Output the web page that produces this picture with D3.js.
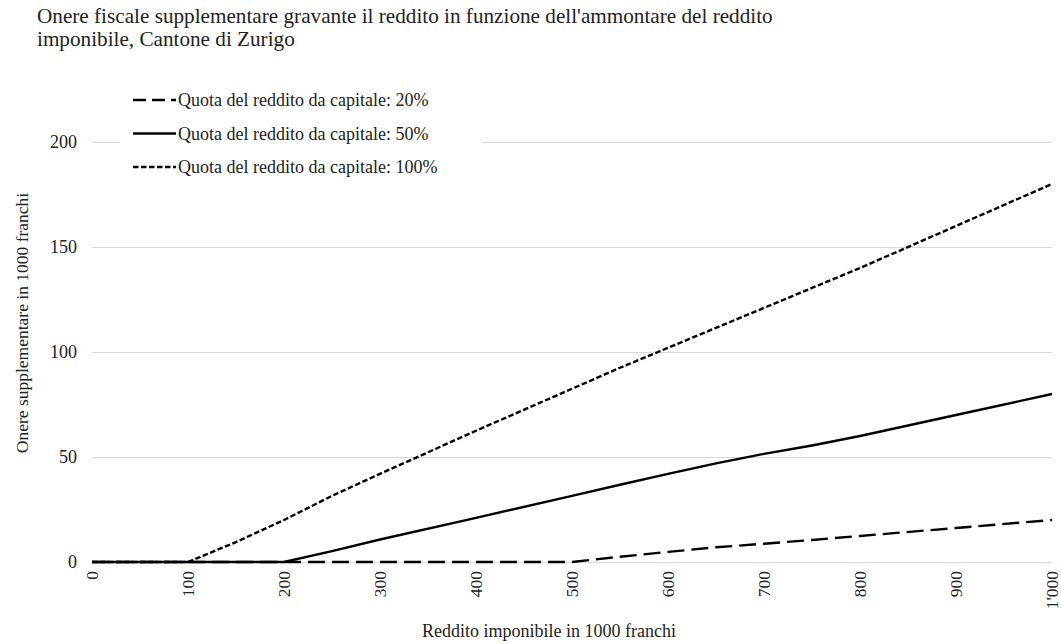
<!DOCTYPE html>
<html>
<head>
<meta charset="utf-8">
<script src="https://cdn.jsdelivr.net/npm/d3@7"></script>
<style>
  html, body { margin: 0; padding: 0; background: #fff; }
  svg { display: block; font-family: "Liberation Serif", "Times New Roman", serif; }
</style>
</head>
<body>
<svg id="chart" width="1061" height="644"></svg>
<script>
// Taxable income (thousand francs)
const incomes = [0, 100, 150, 200, 250, 300, 400, 500, 550, 600, 650, 700, 750, 800, 900, 1000];

// Additional tax burden (thousand francs) by share of capital income
const share20  = [0, 0, 0, 0, 0, 0, 0, 0, 2.5, 4.8, 7, 8.7, 10.5, 12.4, 16.2, 20];
const share50  = [0, 0, 0, 0, 5.2, 10.7, 21, 31.5, 36.8, 42, 47, 51.5, 55.5, 60, 70, 80];
const share100 = [0, 0, 9.5, 20, 31.5, 42, 62.5, 82.5, 92.5, 102, 111.5, 121, 130.5, 140, 160, 180];

const seriesNames = [
  "Quota del reddito da capitale: 20%",
  "Quota del reddito da capitale: 50%",
  "Quota del reddito da capitale: 100%"
];
const xTicks = [0, 100, 200, 300, 400, 500, 600, 700, 800, 900, 1000];
const yTicks = [0, 50, 100, 150, 200];

const titleLines = [
  "Onere fiscale supplementare gravante il reddito in funzione dell'ammontare del reddito",
  "imponibile, Cantone di Zurigo"
];
const xTitle = "Reddito imponibile in 1000 franchi";
const yTitle = "Onere supplementare in 1000 franchi";

const series = [
  { name: seriesNames[0], values: share20,  dash: "17,7",    legendDash: "13,6" },
  { name: seriesNames[1], values: share50,  dash: null,      legendDash: null },
  { name: seriesNames[2], values: share100, dash: "5.5,2.5", legendDash: "5.5,2.5" }
];

const svg = d3.select("#chart");
const plotLeft = 92, plotRight = 1052, plotTop = 142, plotBottom = 562;
const serif = "Liberation Serif, Times New Roman, serif";
const ink = "#222";

const x = d3.scaleLinear().domain([0, 1000]).range([plotLeft, plotRight]);
const y = d3.scaleLinear().domain([0, 200]).range([plotBottom, plotTop]);

// Title
svg.append("g").selectAll("text").data(titleLines).join("text")
  .attr("x", 37).attr("y", (d, i) => 23 + i * 23)
  .attr("font-family", serif)
  .attr("font-size", 21.2).attr("fill", ink)
  .text(d => d);

// Horizontal gridlines
svg.append("g")
  .attr("transform", `translate(${plotLeft},0)`)
  .call(d3.axisLeft(y).tickValues(yTicks).tickSize(-(plotRight - plotLeft)).tickFormat(""))
  .call(g => g.select(".domain").remove())
  .call(g => g.selectAll(".tick line").attr("stroke", "#d9d9d9").attr("stroke-width", 1));

// Y tick labels
svg.append("g")
  .attr("transform", `translate(${plotLeft},0)`)
  .call(d3.axisLeft(y).tickValues(yTicks).tickSize(0).tickPadding(15).tickFormat(d3.format("d")))
  .call(g => g.select(".domain").remove())
  .call(g => g.selectAll("text")
    .attr("font-family", serif)
    .attr("font-size", 18).attr("fill", ink));

// X tick labels (rotated)
const fmtX = d => d >= 1000 ? d3.format(",")(d).replace(",", "'") : String(d);
svg.append("g")
  .attr("transform", `translate(0,${plotBottom})`)
  .call(d3.axisBottom(x).tickValues(xTicks).tickSize(0).tickFormat(fmtX))
  .call(g => g.select(".domain").remove())
  .call(g => g.selectAll("text")
    .attr("font-family", serif)
    .attr("font-size", 17.5).attr("fill", ink)
    .attr("text-anchor", "end")
    .attr("dy", "0.32em")
    .attr("transform", "translate(0,9) rotate(-90)")
    .attr("x", 0).attr("y", 0));

// Axis titles
svg.append("text")
  .attr("x", 549).attr("y", 637)
  .attr("font-family", serif)
  .attr("text-anchor", "middle").attr("font-size", 18).attr("fill", ink)
  .text(xTitle);
svg.append("text")
  .attr("transform", "translate(28,323) rotate(-90)")
  .attr("font-family", serif)
  .attr("text-anchor", "middle").attr("font-size", 17.5).attr("fill", ink)
  .text(yTitle);

// Series lines
const line = d3.line().x((d, i) => x(incomes[i])).y(d => y(d));
svg.append("g").selectAll("path").data(series).join("path")
  .attr("d", d => line(d.values))
  .attr("fill", "none")
  .attr("stroke", "#000")
  .attr("stroke-width", 2.4)
  .attr("stroke-dasharray", d => d.dash);

// Legend
const legend = svg.append("g");
legend.append("rect")
  .attr("x", 120).attr("y", 84).attr("width", 362).attr("height", 100)
  .attr("fill", "#fff");
const rows = legend.selectAll("g.row").data(series).join("g")
  .attr("class", "row")
  .attr("transform", (d, i) => `translate(0,${100 + i * 33.5})`);
rows.append("line")
  .attr("x1", 133).attr("x2", 176).attr("y1", 0).attr("y2", 0)
  .attr("stroke", "#000").attr("stroke-width", 2.4)
  .attr("stroke-dasharray", d => d.legendDash);
rows.append("text")
  .attr("x", 178).attr("y", 6)
  .attr("font-family", serif)
  .attr("font-size", 18).attr("fill", ink)
  .text(d => d.name);
</script>
</body>
</html>
